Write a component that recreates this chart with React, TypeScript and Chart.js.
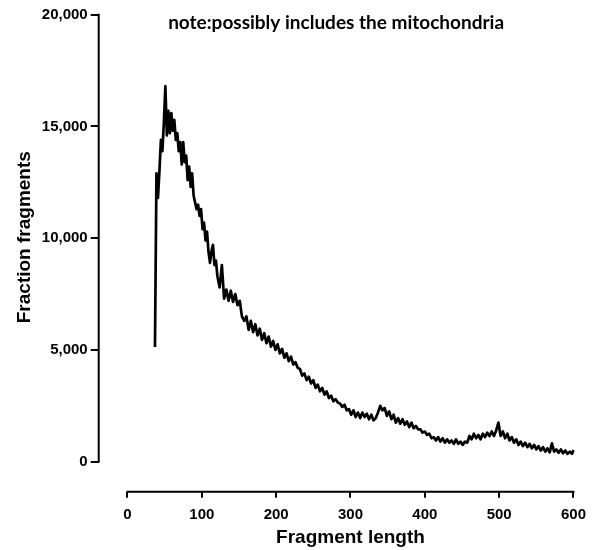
import React, { useEffect, useRef } from "react";
import { Chart, registerables } from "chart.js";

Chart.register(...registerables);

// ---- Data ----
// Fine-resolution part of the distribution (every 2 bp from 37 to 121)
const FINE_START = 37;
const FINE_STEP = 2;
const countsFine = [
  5130, 12900, 11800, 13000, 14400, 13900, 15200, 16800, 14600, 15700,
  14700, 15600, 14800, 15300, 14400, 14700, 13900, 14300, 13300, 14300,
  13400, 13700, 12600, 13200, 12300, 12900, 11900, 11600, 11300, 11500,
  11000, 11300, 10400, 10700, 9900, 10300, 9400, 8900, 9400, 9700,
  8800, 9000, 8300,
];

// Coarser part (every 3 bp from 124 to 598)
const COARSE_START = 124;
const COARSE_STEP = 3;
const countsCoarse = [
  7800, 8800, 7300, 7700, 7200, 7650, 7150, 7500, 7000, 7200,
  6500, 6300, 6500, 5900, 6300, 5800, 6150, 5650, 5950, 5450,
  5750, 5300, 5600, 5150, 5400, 5000, 5250, 4850, 5050, 4650,
  4850, 4500, 4700, 4350, 4450, 4200, 4150, 3850, 3950, 3650,
  3800, 3500, 3650, 3300, 3450, 3150, 3300, 3000, 3150, 2850,
  2950, 2700, 2800, 2650, 2600, 2450, 2550, 2300, 2350, 2100,
  2300, 2000, 2200, 1950, 2200, 2000, 2150, 1900, 2100, 1850,
  1950, 2200, 2500, 2300, 2400, 2050, 2250, 1900, 2100, 1750,
  1950, 1700, 1900, 1650, 1800, 1550, 1750, 1500, 1600, 1450,
  1450, 1300, 1350, 1200, 1250, 1050, 1100, 950, 1100, 900,
  1050, 850, 1000, 850, 950, 800, 1000, 800, 900, 750,
  900, 850, 1150, 1000, 1250, 1050, 1200, 1000, 1250, 1100,
  1300, 1150, 1350, 1150, 1400, 1750, 1150, 1350, 1050, 1250,
  950, 1100, 850, 1000, 750, 900, 700, 850, 650, 800,
  600, 750, 550, 700, 500, 650, 450, 600, 420, 820,
  450, 550, 400, 550, 380, 500, 350, 450, 350,
];

const tailLengths = [600];
const tailCounts = [520];

const xTicks = [0, 100, 200, 300, 400, 500, 600];
const yTicks = [0, 5000, 10000, 15000, 20000];

const X_TITLE = "Fragment length";
const Y_TITLE = "Fraction fragments";
const NOTE = "note:possibly includes the mitochondria";

// ---- Build points ----
const points: { x: number; y: number }[] = [];
countsFine.forEach((c, i) => points.push({ x: FINE_START + i * FINE_STEP, y: c }));
countsCoarse.forEach((c, i) => points.push({ x: COARSE_START + i * COARSE_STEP, y: c }));
tailLengths.forEach((l, i) => points.push({ x: l, y: tailCounts[i] }));

const AXIS_FONT = '"Liberation Sans", Arial, sans-serif';
const NOTE_FONT = 'Lato, "Open Sans", sans-serif';

const offsetAxesPlugin = {
  id: "offsetAxes",
  afterDraw(chart: any) {
    const { ctx, chartArea, scales } = chart;
    const x = scales.x;
    const y = scales.y;
    ctx.save();
    ctx.strokeStyle = "#000";
    ctx.lineWidth = 2;
    ctx.beginPath();
    const yTop = y.getPixelForValue(yTicks[yTicks.length - 1]);
    const yBot = y.getPixelForValue(yTicks[0]);
    ctx.moveTo(chartArea.left, yTop - 1);
    ctx.lineTo(chartArea.left, yBot + 1);
    const xL = x.getPixelForValue(xTicks[0]);
    const xR = x.getPixelForValue(xTicks[xTicks.length - 1]);
    ctx.moveTo(xL - 1, chartArea.bottom);
    ctx.lineTo(xR + 1, chartArea.bottom);
    ctx.stroke();

    ctx.fillStyle = "#000";
    ctx.textAlign = "center";
    ctx.textBaseline = "middle";
    ctx.font = `bold 19px ${AXIS_FONT}`;
    ctx.fillText(X_TITLE, (xL + xR) / 2, chartArea.bottom + 46);

    ctx.save();
    ctx.translate(25, (yTop + yBot) / 2 - 1);
    ctx.rotate(-Math.PI / 2);
    ctx.fillText(Y_TITLE, 0, 0);
    ctx.restore();

    ctx.font = `bold 19px ${NOTE_FONT}`;
    ctx.textBaseline = "alphabetic";
    ctx.fillText(NOTE, (chartArea.left + chartArea.right) / 2, chartArea.top + 14);
    ctx.restore();
  },
};

export default function App() {
  const ref = useRef<HTMLCanvasElement>(null);

  useEffect(() => {
    if (!ref.current) return;
    const chart = new Chart(ref.current, {
      type: "line",
      data: {
        datasets: [
          {
            data: points,
            borderColor: "#000",
            backgroundColor: "#000",
            borderWidth: 2.7,
            pointRadius: 0,
            tension: 0,
            borderJoinStyle: "round",
            clip: false,
          } as any,
        ],
      },
      options: {
        animation: false,
        responsive: false,
        layout: { padding: { left: 0, right: 17, top: 14.7, bottom: 0 } },
        plugins: {
          legend: { display: false },
          tooltip: { enabled: false },
          title: { display: false },
        },
        scales: {
          x: {
            type: "linear",
            min: -38.7,
            max: 600,
            afterBuildTicks: (s: any) => {
              s.ticks = xTicks.map((v) => ({ value: v }));
            },
            afterFit: (s: any) => {
              s.height = 58.3;
            },
            grid: {
              drawOnChartArea: false,
              drawTicks: true,
              tickLength: 6,
              color: "#000",
              lineWidth: 2,
            },
            border: { display: false },
            ticks: {
              padding: 8,
              color: "#000",
              maxRotation: 0,
              autoSkip: false,
              font: { family: AXIS_FONT, size: 15, weight: "bold" },
              callback: (v: any) => String(v),
            },
          },
          y: {
            type: "linear",
            min: -1342,
            max: 20000,
            afterBuildTicks: (s: any) => {
              s.ticks = yTicks.map((v) => ({ value: v }));
            },
            afterFit: (s: any) => {
              s.width = 98.7;
            },
            grid: {
              drawOnChartArea: false,
              drawTicks: true,
              tickLength: 8,
              color: "#000",
              lineWidth: 2,
            },
            border: { display: false },
            ticks: {
              padding: 3,
              color: "#000",
              autoSkip: false,
              font: { family: AXIS_FONT, size: 15, weight: "bold" },
              callback: (v: any) => Number(v).toLocaleString("en-US"),
            },
          },
        },
      },
      plugins: [offsetAxesPlugin],
    });
    return () => chart.destroy();
  }, []);

  return (
    <div style={{ position: "absolute", left: 0, top: 0, width: 594, height: 550 }}>
      <canvas ref={ref} width={594} height={550} style={{ display: "block" }} />
    </div>
  );
}
